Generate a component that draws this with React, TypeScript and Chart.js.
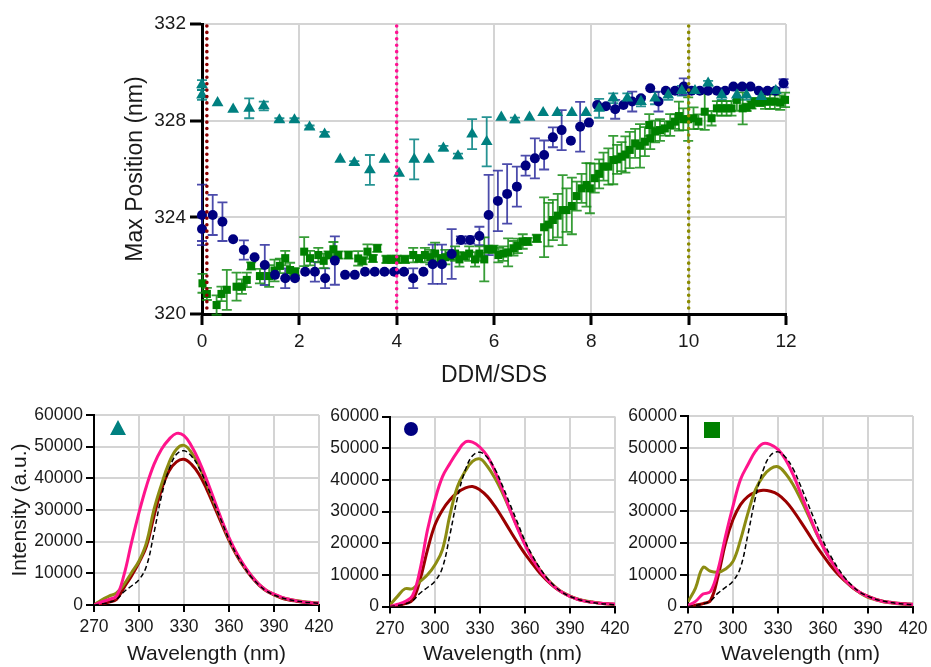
import React, { useEffect, useRef } from "react";
import { Chart, registerables } from "chart.js";
Chart.register(...registerables);

const FONT = "'Liberation Sans', Arial, Helvetica, sans-serif";
const TXT = "#1a1a1a";

// ---------------- Top chart data (DDM/SDS vs max position) ----------------
const topXTicks = { min: 0, max: 12, step: 2 };
const topYTicks = { min: 320, max: 332, step: 4 };

const triX = [0, 0, 0.32, 0.64, 0.97, 1.27, 1.59, 1.9, 2.21, 2.52,
  2.84, 3.13, 3.45, 3.75, 4.05, 4.36, 4.66, 4.96, 5.26, 5.55,
  5.85, 6.15, 6.43, 6.73, 7.01, 7.3, 7.6, 7.89, 8.16, 8.45,
  8.74, 9.02, 9.31, 9.58, 9.86, 10.13, 10.4, 10.68, 10.99, 11.19,
  11.49, 11.79];
const triY = [329.48, 329.06, 328.74, 328.47, 328.51, 328.61, 328.03, 328.03, 327.73, 327.44,
  326.4, 326.26, 325.96, 326.4, 325.82, 326.4, 326.4, 326.86, 326.54, 327.44,
  327.13, 328.14, 328.03, 328.14, 328.33, 328.33, 328.33, 328.33, 328.51, 328.93,
  328.93, 328.79, 328.93, 329.06, 329.24, 329.24, 329.55, 329.06, 329.06, 329.06,
  329.0, 329.24];
const triErr = [0.2, 0.2, 0, 0, 0.41, 0.18, 0.07, 0.07, 0.07, 0.1,
  0, 0.07, 0.62, 0, 0, 0.83, 0, 0.1, 0.1, 0.62,
  1.02, 0, 0.1, 0, 0, 0, 0, 0, 0.39, 0.2,
  0.2, 0.2, 0.25, 0.2, 0.2, 0, 0.1, 0.2, 0.2, 0.2,
  0.1, 0.1];

const cirX = [0, 0, 0.22, 0.42, 0.64, 0.86, 1.08, 1.29, 1.5, 1.71,
  1.91, 2.12, 2.32, 2.53, 2.73, 2.94, 3.14, 3.35, 3.55, 3.75,
  3.95, 4.15, 4.34, 4.55, 4.74, 4.93, 5.13, 5.32, 5.51, 5.7,
  5.89, 6.08, 6.27, 6.47, 6.65, 6.84, 7.03, 7.21, 7.39, 7.58,
  7.77, 7.95, 8.12, 8.3, 8.49, 8.66, 8.84, 9.02, 9.21, 9.38,
  9.53, 9.72, 9.9, 10.06, 10.23, 10.4, 10.58, 10.75, 10.92, 11.1,
  11.27, 11.44, 11.62, 11.78, 11.95];
const cirY = [324.1, 323.52, 324.1, 323.82, 323.09, 322.65, 322.35, 322.03, 321.62, 321.48,
  321.48, 321.75, 321.75, 321.48, 322.21, 321.62, 321.62, 321.75, 321.75, 321.75,
  321.75, 321.75, 321.48, 321.75, 322.06, 322.06, 322.48, 323.06, 323.06, 323.23,
  324.1, 324.68, 324.97, 325.27, 326.14, 326.44, 326.58, 327.31, 327.61, 327.17,
  327.75, 327.92, 328.65, 328.6, 328.47, 328.65, 328.79, 328.93, 329.34, 328.79,
  329.24, 329.24, 329.41, 329.24, 329.24, 329.24, 329.24, 329.24, 329.41, 329.41,
  329.41, 329.24, 329.24, 329.24, 329.55];
const cirErr = [1.25, 0.5, 0.83, 0.8, 0, 0.4, 0, 0.83, 0, 0.41,
  0, 0, 0.41, 0.41, 1.0, 0, 0, 0, 0, 0,
  0.05, 0.05, 0.41, 0, 0.81, 0.81, 1.03, 0.15, 0.15, 0.38,
  1.66, 1.25, 1.23, 0.83, 0.41, 0.83, 0.6, 0.41, 0.83, 0,
  1.03, 0, 0, 0, 0.39, 0, 0.41, 0, 0, 0.41,
  0, 0, 0.34, 0, 0, 0, 0, 0, 0, 0,
  0, 0, 0, 0, 0.17];

const sqX = [0.01, 0.1, 0.3, 0.4, 0.51, 0.71, 0.82, 0.92, 1.01, 1.19,
  1.38, 1.49, 1.6, 1.71, 1.81, 1.91, 2.1, 2.22, 2.39, 2.5,
  2.6, 2.7, 2.8, 3.01, 3.21, 3.3, 3.4, 3.51, 3.6, 3.79,
  3.9, 4.0, 4.17, 4.34, 4.46, 4.58, 4.69, 4.79, 4.9, 5.0,
  5.1, 5.2, 5.29, 5.39, 5.49, 5.61, 5.7, 5.8, 5.88, 5.99,
  6.09, 6.19, 6.29, 6.4, 6.49, 6.59, 6.69, 6.88, 7.03, 7.12,
  7.21, 7.31, 7.41, 7.49, 7.6, 7.7, 7.8, 7.9, 7.97, 8.07,
  8.16, 8.25, 8.35, 8.45, 8.53, 8.62, 8.7, 8.79, 8.9, 9.0,
  9.1, 9.19, 9.21, 9.31, 9.41, 9.51, 9.62, 9.72, 9.8, 9.89,
  9.99, 10.1, 10.2, 10.33, 10.47, 10.58, 10.68, 10.78, 10.88, 10.99,
  11.11, 11.19, 11.29, 11.36, 11.47, 11.57, 11.67, 11.77, 11.88, 11.98];
const sqY = [321.27, 320.83, 320.37, 320.83, 321.0, 321.13, 321.13, 321.41, 321.99, 321.57,
  321.57, 321.8, 321.99, 322.31, 321.82, 321.75, 322.58, 322.31, 322.44, 322.2,
  322.44, 322.68, 322.44, 322.44, 322.3, 322.2, 322.58, 322.3, 322.72, 322.26,
  322.26, 322.26, 322.26, 322.44, 322.3, 322.44, 322.35, 322.5, 322.3, 322.35,
  322.4, 322.5, 322.26, 322.4, 322.5, 322.26, 322.5, 322.26, 322.68, 322.68,
  322.44, 322.5, 322.55, 322.72, 322.82, 323.0, 323.0, 323.13, 323.59, 323.7,
  323.89, 324.07, 324.3, 324.3, 324.47, 324.88, 325.2, 325.34, 325.2, 325.62,
  325.8, 326.1, 326.1, 326.37, 326.4, 326.51, 326.6, 326.79, 327.06, 326.96,
  327.13, 327.82, 327.27, 327.55, 327.61, 327.68, 327.82, 327.96, 328.19, 328.06,
  328.06, 328.1, 327.96, 328.37, 328.1, 328.51, 328.51, 328.51, 328.51, 328.86,
  328.51, 328.55, 328.65, 328.79, 328.75, 328.79, 328.79, 328.79, 328.75, 328.86];
const sqErr = [0.39, 0.25, 0.4, 0.3, 0.83, 0.58, 0.3, 0.3, 0.15, 0.3,
  0.45, 0.45, 0.3, 0.3, 0.3, 0.15, 0.6, 0.3, 0.3, 0.3,
  0.15, 0.3, 0.15, 0.15, 0.3, 0.15, 0.3, 0.15, 0.15, 0.15,
  0.15, 0.15, 0.15, 0.3, 0.15, 0.3, 0.3, 0.45, 0.15, 0.3,
  0.15, 0.3, 0.3, 0.15, 0.3, 0.3, 0.3, 0.91, 0.15, 0.15,
  0.3, 0.3, 0.58, 0.3, 0.3, 0.3, 0.15, 0.15, 1.24, 0.9,
  0.83, 0.9, 1.45, 0.9, 1.17, 0.6, 0.6, 0.9, 1.03, 0.6,
  0.6, 0.58, 0.75, 1.0, 0.6, 0.6, 0.75, 0.75, 0.6, 0.9,
  0.6, 0.45, 0.45, 0.45, 0.45, 0.3, 0.45, 0.3, 0.6, 0.45,
  0.9, 0.45, 0.3, 0.75, 0.3, 0.3, 0.3, 0.3, 0.3, 0.45,
  0.66, 0.15, 0.15, 0.15, 0.15, 0.3, 0.3, 0.3, 0.3, 0.3];

const refLineX = [0.1, 4, 10];
const refLineColors = ["#8b0000", "#ff1493", "#8b8b00"];

// ---------------- Bottom spectra data ----------------
const wavelength = [270, 275, 280, 285, 290, 295, 300, 305, 310, 315, 320, 325, 330, 335, 340,
  345, 350, 355, 360, 365, 370, 375, 380, 385, 390, 395, 400, 405, 410, 415, 420];
const refSpectrum = [0, 300, 800, 1800, 4200, 6000, 8000, 12300, 22800, 34400, 42800, 47600, 48700, 47000, 43400,
  38100, 32300, 26500, 20700, 16000, 12100, 8800, 6300, 4400, 3200, 2300, 1700, 1250, 950, 750, 550];

const tri_pink = [0, 950, 1800, 2800, 9500, 19700, 29200, 37600, 44400, 49200, 52300, 54200, 53500, 50200, 45500,
  39700, 33400, 27000, 21300, 16500, 12500, 9200, 6500, 4600, 3400, 2500, 1800, 1300, 950, 700, 600];
const tri_olive = [0, 1600, 2800, 3800, 6500, 10200, 13900, 19700, 30200, 38100, 44900, 49200, 50400, 48100, 43900,
  38400, 32500, 26700, 20900, 16200, 12300, 9200, 6500, 4600, 3400, 2400, 1800, 1400, 1050, 800, 600];
const tri_red = [0, 300, 900, 1800, 5500, 9200, 13400, 18600, 28100, 36500, 42300, 45200, 46000, 44400, 41300,
  36700, 31300, 25800, 20400, 15800, 12000, 8800, 6300, 4400, 3200, 2200, 1600, 1200, 850, 650, 500];

const cir_pink = [0, 700, 1600, 3400, 11600, 24200, 33700, 41000, 45200, 48900, 51900, 51900, 50300, 47400, 42600,
  36800, 30500, 24700, 19500, 15000, 11400, 8400, 6100, 4400, 3200, 2300, 1700, 1350, 1050, 850, 700];
const cir_olive = [500, 3200, 5600, 5600, 7900, 10000, 13200, 18000, 29000, 37900, 42600, 45800, 46600, 44200, 40500,
  35800, 30500, 25000, 19800, 15300, 11600, 8600, 6300, 4500, 3300, 2400, 1800, 1400, 1050, 800, 600];
const cir_red = [0, 300, 900, 2000, 8400, 17900, 25800, 30500, 33700, 36000, 37400, 37900, 36800, 34700, 31600,
  27900, 24000, 20200, 16600, 13500, 10500, 8100, 6000, 4400, 3200, 2300, 1700, 1350, 1050, 850, 700];

const sq_pink = [300, 1600, 3900, 4700, 11600, 22100, 31600, 40000, 44700, 48900, 51300, 51000, 49500, 46300, 41600,
  35800, 29800, 24000, 18900, 14700, 11100, 8200, 6000, 4300, 3100, 2200, 1600, 1250, 950, 750, 600];
const sq_olive = [1500, 5800, 12300, 11100, 10800, 11800, 14200, 21000, 29500, 36800, 41000, 43400, 44000, 41900, 38400,
  33900, 28900, 23700, 18900, 14700, 11100, 8200, 6000, 4200, 2900, 2100, 1500, 1150, 850, 650, 500];
const sq_red = [0, 400, 900, 1900, 9500, 20000, 27400, 32100, 34700, 36000, 36600, 36300, 35300, 33200, 30300,
  26800, 23200, 19500, 16100, 12900, 10200, 7900, 5800, 4300, 3200, 2300, 1700, 1350, 1050, 850, 700];

const specXTicks = { min: 270, max: 420, step: 30 };
const specYTicks = { min: 0, max: 60000, step: 10000 };

// ---------------- plugins ----------------
const errorBarPlugin = {
  id: "errorBars",
  beforeDatasetsDraw(chart: any) {
    const { ctx } = chart;
    const ys = chart.scales.y;
    chart.data.datasets.forEach((ds: any, di: number) => {
      if (!ds.errors) return;
      const meta = chart.getDatasetMeta(di);
      ctx.save();
      ctx.strokeStyle = ds.errorColor;
      ctx.lineWidth = 1.8;
      meta.data.forEach((pt: any, i: number) => {
        const e = ds.errors[i];
        if (!e) return;
        const v = ds.data[i].y;
        const y1 = ys.getPixelForValue(v + e);
        const y2 = ys.getPixelForValue(v - e);
        const x = pt.x;
        ctx.beginPath();
        ctx.moveTo(x, y1); ctx.lineTo(x, y2);
        ctx.moveTo(x - 5, y1); ctx.lineTo(x + 5, y1);
        ctx.moveTo(x - 5, y2); ctx.lineTo(x + 5, y2);
        ctx.stroke();
      });
      ctx.restore();
    });
  },
};

const refLinePlugin = {
  id: "refLines",
  afterDatasetsDraw(chart: any) {
    const { ctx, chartArea } = chart;
    const xs = chart.scales.x;
    refLineX.forEach((v, i) => {
      const x = xs.getPixelForValue(v);
      ctx.save();
      ctx.strokeStyle = refLineColors[i];
      ctx.lineWidth = 3.6;
      ctx.lineCap = "round";
      ctx.setLineDash([0.01, 6.4]);
      ctx.beginPath();
      ctx.moveTo(x, chartArea.top + 2);
      ctx.lineTo(x, chartArea.bottom);
      ctx.stroke();
      ctx.restore();
    });
  },
};

function iconPlugin(shape: string, color: string, dx: number, dy: number) {
  return {
    id: "icon",
    afterDraw(chart: any) {
      const { ctx, chartArea } = chart;
      const x = chartArea.left + dx;
      const y = chartArea.top + dy;
      ctx.save();
      ctx.fillStyle = color;
      ctx.beginPath();
      if (shape === "triangle") {
        ctx.moveTo(x, y - 8);
        ctx.lineTo(x + 8, y + 7);
        ctx.lineTo(x - 8, y + 7);
        ctx.closePath();
      } else if (shape === "circle") {
        ctx.arc(x, y, 7, 0, Math.PI * 2);
      } else {
        ctx.rect(x - 8, y - 8, 16, 16);
      }
      ctx.fill();
      ctx.restore();
    },
  };
}

// ---------------- configs ----------------
function topConfig(): any {
  const mk = (xs: number[], ys: number[]) => xs.map((x, i) => ({ x, y: ys[i] }));
  return {
    type: "scatter",
    data: {
      datasets: [
        { data: mk(triX, triY), errors: triErr, errorColor: "rgba(0,128,128,0.85)", pointStyle: "triangle",
          pointRadius: 6.8, backgroundColor: "#008080", borderWidth: 0, clip: false },
        { data: mk(cirX, cirY), errors: cirErr, errorColor: "rgba(30,30,150,0.8)", pointStyle: "circle",
          pointRadius: 5, backgroundColor: "#000080", borderWidth: 0, clip: false },
        { data: mk(sqX, sqY), errors: sqErr, errorColor: "rgba(20,140,20,0.85)", pointStyle: "rect",
          pointRadius: 5.7, backgroundColor: "#008000", borderWidth: 0, clip: false },
      ],
    },
    options: {
      responsive: false,
      animation: false,
      events: [],
      layout: { padding: { left: 120, top: 24, right: 145, bottom: 0 } },
      plugins: { legend: { display: false }, tooltip: { enabled: false } },
      scales: {
        x: {
          type: "linear", min: topXTicks.min, max: topXTicks.max,
          ticks: { stepSize: topXTicks.step, color: TXT, font: { family: FONT, size: 19 }, padding: 5 },
          grid: { color: "#d4d4d4", lineWidth: 2, tickColor: "#000", tickLength: 11, tickWidth: 3 },
          border: { color: "#000", width: 3 },
          title: { display: true, text: "DDM/SDS", color: TXT, font: { family: FONT, size: 23 }, padding: { top: 0, bottom: 3 } },
          afterFit: (s: any) => { s.height = 78; s.paddingLeft = 0; s.paddingRight = 0; },
        },
        y: {
          type: "linear", min: topYTicks.min, max: topYTicks.max,
          ticks: { stepSize: topYTicks.step, color: TXT, font: { family: FONT, size: 19 }, padding: 4 },
          grid: { color: "#d4d4d4", lineWidth: 2, tickColor: "#000", tickLength: 12, tickWidth: 3 },
          border: { color: "#000", width: 3 },
          title: { display: true, text: "Max Position (nm)", color: TXT, font: { family: FONT, size: 23 }, padding: { top: 2, bottom: 0 } },
          afterFit: (s: any) => { s.width = 82; s.paddingTop = 0; s.paddingBottom = 0; },
        },
      },
    },
    plugins: [errorBarPlugin, refLinePlugin],
  };
}

function specConfig(p: {
  pink: number[]; olive: number[]; red: number[];
  padLeft: number; padTop: number; padRight: number; yWidth: number; xHeight: number;
  yTitle: boolean; icon: any;
}): any {
  const mk = (ys: number[]) => wavelength.map((x, i) => ({ x, y: ys[i] }));
  const common = { pointRadius: 0, tension: 0.4, fill: false };
  return {
    type: "line",
    data: {
      datasets: [
        { ...common, data: mk(refSpectrum), borderColor: "#000", borderWidth: 1.5, borderDash: [5, 3] },
        { ...common, data: mk(p.pink), borderColor: "#ff148c", borderWidth: 3 },
        { ...common, data: mk(p.olive), borderColor: "#8c8c12", borderWidth: 3 },
        { ...common, data: mk(p.red), borderColor: "#9a0000", borderWidth: 3 },
      ],
    },
    options: {
      responsive: false,
      animation: false,
      events: [],
      layout: { padding: { left: p.padLeft, top: p.padTop, right: p.padRight, bottom: 0 } },
      plugins: { legend: { display: false }, tooltip: { enabled: false } },
      scales: {
        x: {
          type: "linear", min: specXTicks.min, max: specXTicks.max,
          ticks: { stepSize: specXTicks.step, color: TXT, font: { family: FONT, size: 17.5 }, padding: 5 },
          grid: { color: "#d4d4d4", lineWidth: 2, tickColor: "#000", tickLength: 7, tickWidth: 2 },
          border: { color: "#000", width: 2 },
          title: { display: true, text: "Wavelength (nm)", color: TXT, font: { family: FONT, size: 21 }, padding: { top: 0, bottom: 0 } },
          afterFit: (s: any) => { s.height = p.xHeight; s.paddingLeft = 0; s.paddingRight = 0; },
        },
        y: {
          type: "linear", min: specYTicks.min, max: specYTicks.max,
          ticks: { stepSize: specYTicks.step, color: TXT, font: { family: FONT, size: 17.5 }, padding: 3,
            callback: (v: any) => String(v) },
          grid: { color: "#d4d4d4", lineWidth: 2, tickColor: "#000", tickLength: 8, tickWidth: 2 },
          border: { color: "#000", width: 2 },
          title: { display: p.yTitle, text: "Intensity (a.u.)", color: TXT, font: { family: FONT, size: 21 }, padding: { top: 0, bottom: 0 } },
          afterFit: (s: any) => { s.width = p.yWidth; s.paddingTop = 0; s.paddingBottom = 0; },
        },
      },
    },
    plugins: [p.icon],
  };
}

function ChartCanvas(props: { left: number; top: number; width: number; height: number; make: () => any }) {
  const ref = useRef<HTMLCanvasElement>(null);
  useEffect(() => {
    const chart = new Chart(ref.current as HTMLCanvasElement, props.make());
    return () => chart.destroy();
  }, []);
  return (
    <canvas
      ref={ref}
      width={props.width}
      height={props.height}
      style={{ position: "absolute", left: props.left, top: props.top, width: props.width, height: props.height }}
    />
  );
}

export default function App() {
  return (
    <div style={{ position: "absolute", left: 0, top: 0, width: 931, height: 667, background: "#fff", overflow: "hidden" }}>
      <ChartCanvas left={0} top={0} width={931} height={392} make={topConfig} />
      <ChartCanvas left={0} top={395} width={335} height={272}
        make={() => specConfig({ pink: tri_pink, olive: tri_olive, red: tri_red, padLeft: 8, padTop: 20, padRight: 16,
          yWidth: 86, xHeight: 62, yTitle: true, icon: iconPlugin("triangle", "#008080", 24, 13) })} />
      <ChartCanvas left={320} top={395} width={310} height={272}
        make={() => specConfig({ pink: cir_pink, olive: cir_olive, red: cir_red, padLeft: 0, padTop: 21.5, padRight: 15,
          yWidth: 70, xHeight: 60.5, yTitle: false, icon: iconPlugin("circle", "#000080", 21, 12.5) })} />
      <ChartCanvas left={615} top={395} width={316} height={272}
        make={() => specConfig({ pink: sq_pink, olive: sq_olive, red: sq_red, padLeft: 0, padTop: 21, padRight: 18,
          yWidth: 73, xHeight: 60.5, yTitle: false, icon: iconPlugin("square", "#008000", 24, 14) })} />
    </div>
  );
}
